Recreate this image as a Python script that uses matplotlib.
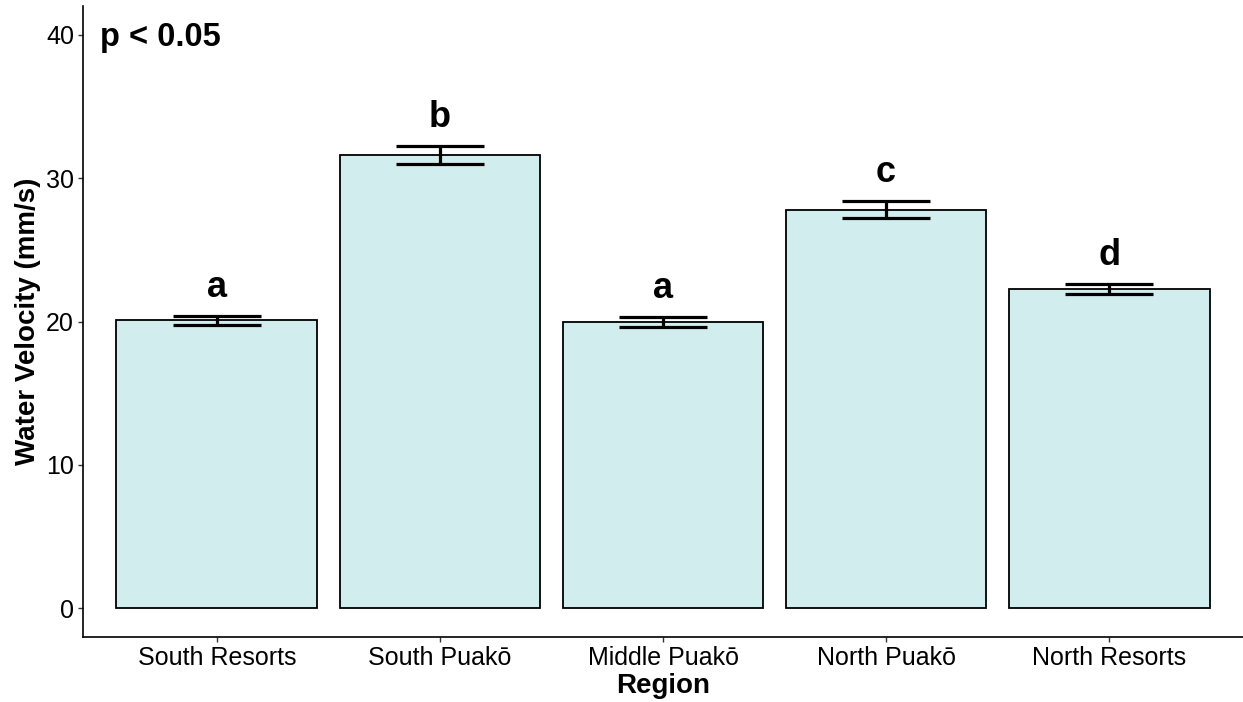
import matplotlib
matplotlib.use("Agg")
import matplotlib.pyplot as plt
import numpy as np

plt.rcParams['font.family'] = ['Liberation Sans', 'DejaVu Sans']

regions = ["South Resorts", "South Puakō", "Middle Puakō", "North Puakō", "North Resorts"]
velocity = [20.07, 31.6, 19.97, 27.8, 22.27]
se = [0.31, 0.64, 0.35, 0.6, 0.33]
letters = ["a", "b", "a", "c", "d"]

fig = plt.figure(figsize=(12.43, 7.02), dpi=100)
ax = fig.add_axes([83 / 1243, 1 - 637 / 702, 1 - 83 / 1243, (637 - 6) / 702])

x = np.arange(1, len(regions) + 1)
ax.bar(x, velocity, width=0.9, color="#D1EDED", edgecolor="black", linewidth=1.3, zorder=2)
ax.errorbar(x, velocity, yerr=se, fmt="none", ecolor="black", elinewidth=2.3,
            capsize=32, capthick=2.3, zorder=3)

# significance letters above each error bar
for xi, v, s, lab in zip(x, velocity, se, letters):
    ax.text(xi, v + s + 0.75, lab, ha="center", va="bottom", fontsize=26, fontweight="bold")

ax.text(0.475, 39.8, "p < 0.05", ha="left", va="center", fontsize=23.5, fontweight="bold")

ax.set_xlim(0.4, 5.6)
ax.set_ylim(-2, 42)
ax.set_yticks([0, 10, 20, 30, 40])
ax.set_xticks(x)
ax.set_xticklabels(regions)
ax.tick_params(axis="both", labelsize=18, length=3.5, width=1, color="#333333", pad=3)

ax.spines["top"].set_visible(False)
ax.spines["right"].set_visible(False)
ax.spines["left"].set_linewidth(1.2)
ax.spines["bottom"].set_linewidth(1.2)

ax.set_xlabel("Region", fontsize=20, fontweight="bold", labelpad=2)
ax.set_ylabel("Water Velocity (mm/s)", fontsize=20, fontweight="bold", labelpad=3.5)

fig.savefig("out.png", dpi=100)
